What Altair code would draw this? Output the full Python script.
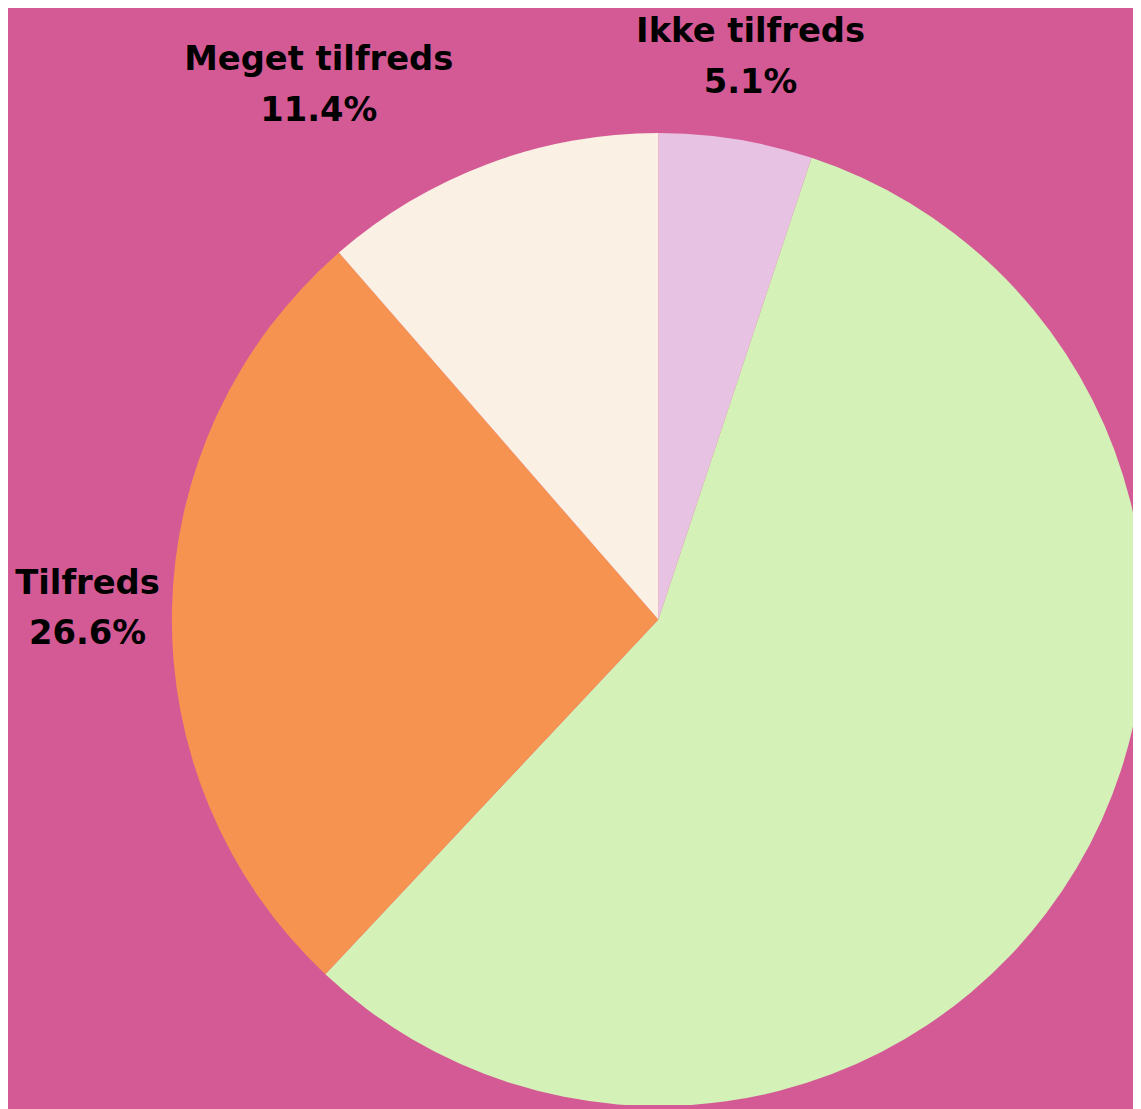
import altair as alt
import pandas as pd

categories = ["Ikke tilfreds", "Hverken/eller", "Tilfreds", "Meget tilfreds"]
values = [5.1, 56.9, 26.6, 11.4]
colors = ["#E8C2E2", "#D4F1B7", "#F69350", "#FAF0E3"]

df = pd.DataFrame({
    "kategori": categories,
    "andel": values,
    "rank": list(range(len(categories))),
})
df["label"] = [f"{c}\n{v:.1f}%" for c, v in zip(categories, values)]

CX, CY = 655, 612
BG = "#D45A96"

base = alt.Chart(df).encode(
    theta=alt.Theta("andel:Q", stack=True),
    order=alt.Order("rank:Q"),
)

pie = base.mark_arc(radius=490, clip=True, stroke=None).encode(
    color=alt.Color("kategori:N", scale=alt.Scale(domain=categories, range=colors), legend=None),
    x=alt.value(CX),
    y=alt.value(CY),
)

def label_layer(name, dx=0, dy=0):
    return base.mark_text(
        radius=582, dx=dx, dy=dy, font="DejaVu Sans", fontWeight="bold", fontSize=34,
        lineBreak="\n", lineHeight=51, color="#000000", align="center", baseline="middle",
    ).encode(
        text="label:N",
        x=alt.value(CX),
        y=alt.value(CY),
        opacity=alt.condition(alt.datum.kategori == name, alt.value(1), alt.value(0)),
    )

labels = [
    label_layer("Ikke tilfreds", 0, -17),
    label_layer("Tilfreds", 7, -25),
    label_layer("Meget tilfreds", -138, -18),
]

chart = alt.layer(pie, *labels).properties(
    width=1133, height=1101,
    autosize=alt.AutoSizeParams(type="none"),
    padding=0,
    background=BG,
).configure_view(stroke=None)

chart.save("out.html", embed_options={"renderer": "svg", "actions": False})
